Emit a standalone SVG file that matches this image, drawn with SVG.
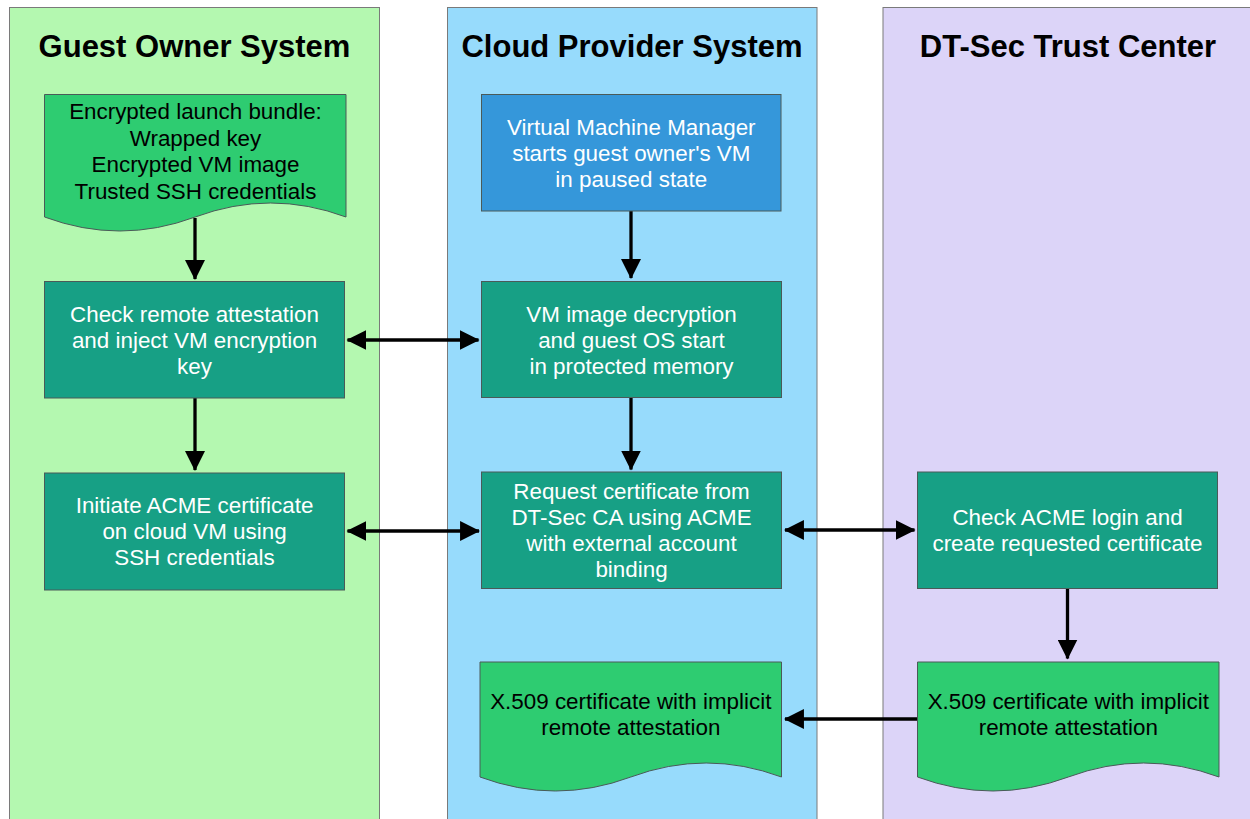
<svg xmlns="http://www.w3.org/2000/svg" width="1250" height="819" viewBox="0 0 1250 819">
<style>
.lane{stroke:#7a7a7a;stroke-width:1}
.title{font-family:"Liberation Sans",Arial,sans-serif;font-weight:bold;font-size:31px;fill:#000;text-anchor:middle}
.t{font-family:"Liberation Sans",Arial,sans-serif;font-size:22.4px;text-anchor:middle}
.w{fill:#fff}
.k{fill:#000}
.box{fill:#17a085;stroke:#4a5a58;stroke-width:1}
.vmm{fill:#3597da;stroke:#4a5a58;stroke-width:1}
.doc{fill:#2ecc71;stroke:#4a5a58;stroke-width:1}
.c{stroke:#000;stroke-width:3.3;fill:none}
</style>
<defs>
<marker id="ah" markerUnits="userSpaceOnUse" markerWidth="20" markerHeight="20" viewBox="0 0 19 19" refX="18" refY="9.5" orient="auto-start-reverse">
<path d="M0,0 L19,9.5 L0,19 Z" fill="#000"/>
</marker>
</defs>
<rect width="1250" height="819" fill="#fff"/>
<g id="lane-guest">
<rect class="lane" x="9.5" y="7.5" width="370" height="830" fill="#b4f8b0"/>
<text class="title" x="194.5" y="57">Guest Owner System</text>
</g>
<g id="lane-cloud">
<rect class="lane" x="447.5" y="7.5" width="369.5" height="830" fill="#97dbfc"/>
<text class="title" x="632" y="57">Cloud Provider System</text>
</g>
<g id="lane-dtsec">
<rect class="lane" x="883" y="7.5" width="380" height="830" fill="#dcd4f8"/>
<text class="title" x="1068" y="57">DT-Sec Trust Center</text>
</g>
<g id="connectors">
<line class="c" x1="195" y1="218" x2="195" y2="279" marker-end="url(#ah)"/>
<line class="c" x1="347.5" y1="340" x2="478.5" y2="340" marker-start="url(#ah)" marker-end="url(#ah)"/>
<line class="c" x1="631" y1="211" x2="631" y2="278" marker-end="url(#ah)"/>
<line class="c" x1="195" y1="398" x2="195" y2="470" marker-end="url(#ah)"/>
<line class="c" x1="631" y1="398" x2="631" y2="469.5" marker-end="url(#ah)"/>
<line class="c" x1="347.5" y1="531" x2="479" y2="531" marker-start="url(#ah)" marker-end="url(#ah)"/>
<line class="c" x1="785" y1="530" x2="914.5" y2="530" marker-start="url(#ah)" marker-end="url(#ah)"/>
<line class="c" x1="1067.5" y1="588" x2="1067.5" y2="658.5" marker-end="url(#ah)"/>
<line class="c" x1="917.5" y1="719" x2="785" y2="719" marker-end="url(#ah)"/>
</g>
<g id="doc-launch-bundle">
<path class="doc" d="M44.5,94.5 H346 V217 Q270.6,189 195.2,217 T44.5,217 Z"/>
<text class="t k" x="195.5" y="119">Encrypted launch bundle:<tspan x="195.5" dy="26.6">Wrapped key</tspan><tspan x="195.5" dy="26.6">Encrypted VM image</tspan><tspan x="195.5" dy="26.6">Trusted SSH credentials</tspan></text>
</g>
<g id="box-vmm">
<rect class="vmm" x="481.5" y="94.5" width="299.5" height="116.5"/>
<text class="t w" x="631.3" y="134.5">Virtual Machine Manager<tspan x="631.3" dy="26.2">starts guest owner's VM</tspan><tspan x="631.3" dy="26.2">in paused state</tspan></text>
</g>
<g id="box-check-attestation">
<rect class="box" x="44.5" y="281.5" width="300" height="116.5"/>
<text class="t w" x="194.5" y="321.7">Check remote attestation<tspan x="194.5" dy="26.2">and inject VM encryption</tspan><tspan x="194.5" dy="26.2">key</tspan></text>
</g>
<g id="box-vm-decrypt">
<rect class="box" x="481.5" y="281.5" width="300" height="116"/>
<text class="t w" x="631.5" y="321.7">VM image decryption<tspan x="631.5" dy="26.2">and guest OS start</tspan><tspan x="631.5" dy="26.2">in protected memory</tspan></text>
</g>
<g id="box-initiate-acme">
<rect class="box" x="44.5" y="473" width="300" height="117"/>
<text class="t w" x="194.5" y="513">Initiate ACME certificate<tspan x="194.5" dy="26.2">on cloud VM using</tspan><tspan x="194.5" dy="26.2">SSH credentials</tspan></text>
</g>
<g id="box-request-cert">
<rect class="box" x="481.5" y="472" width="300" height="116.5"/>
<text class="t w" x="631.5" y="499">Request certificate from<tspan x="631.5" dy="26">DT-Sec CA using ACME</tspan><tspan x="631.5" dy="26">with external account</tspan><tspan x="631.5" dy="26">binding</tspan></text>
</g>
<g id="box-check-acme">
<rect class="box" x="917.5" y="472" width="300" height="116.5"/>
<text class="t w" x="1067.5" y="525">Check ACME login and<tspan x="1067.5" dy="26.2">create requested certificate</tspan></text>
</g>
<g id="doc-cert-cloud">
<path class="doc" d="M480,662 H781.5 V777 Q706.1,749 630.8,777 T480,777 Z"/>
<text class="t k" x="630.8" y="708.5">X.509 certificate with implicit<tspan x="630.8" dy="26.4">remote attestation</tspan></text>
</g>
<g id="doc-cert-dtsec">
<path class="doc" d="M917.5,662 H1219 V777 Q1143.6,749 1068.3,777 T917.5,777 Z"/>
<text class="t k" x="1068.3" y="708.5">X.509 certificate with implicit<tspan x="1068.3" dy="26.4">remote attestation</tspan></text>
</g>
</svg>
